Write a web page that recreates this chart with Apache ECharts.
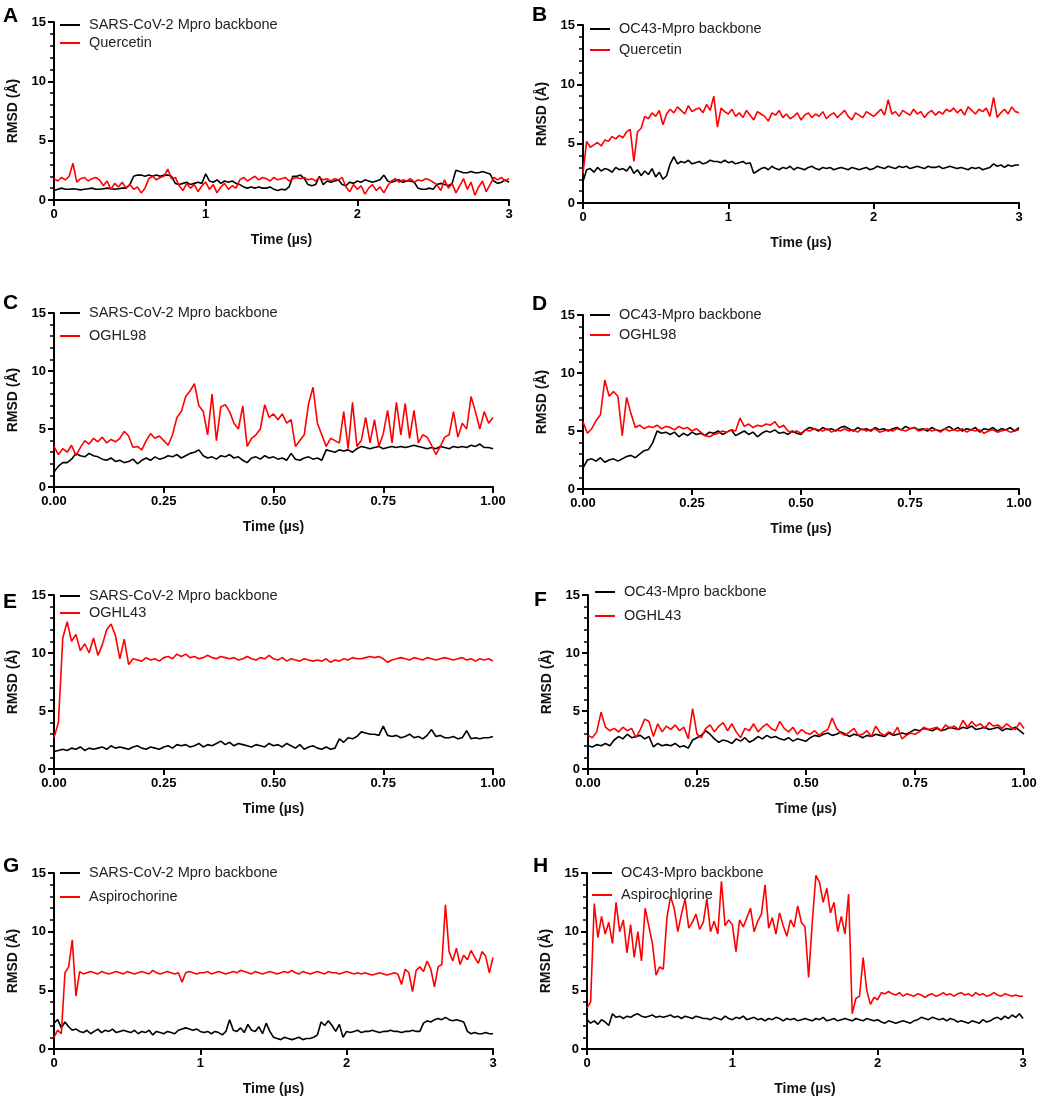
<!DOCTYPE html>
<html>
<head>
<meta charset="utf-8">
<title>RMSD panels</title>
<script src="https://cdn.jsdelivr.net/npm/echarts@6/dist/echarts.min.js"></script>
<style>
  html, body { margin: 0; padding: 0; background: #fff; }
  #chart { width: 1045px; height: 1103px; }
</style>
</head>
<body>
<div id="chart"></div>
<script>
// RMSD values (Å); samples are evenly spaced over each run
var yTicks = [0, 5, 10, 15];

// A: SARS-CoV-2 Mpro / Quercetin, 0-3 µs
var aBackbone = [0.8,0.9,1.0,0.9,0.9,0.95,0.9,0.85,0.9,0.95,1.0,0.9,0.9,0.95,1.0,0.95,0.9,0.95,1.0,1.0,1.3,
  2.0,2.1,2.1,2.0,2.1,2.0,2.1,2.0,2.1,2.1,2.0,
  1.4,1.3,1.4,1.5,1.3,1.4,1.5,1.4,
  2.2,1.6,1.5,1.7,1.4,1.6,1.5,1.6,1.4,1.3,
  1.1,1.0,1.1,1.0,1.1,1.0,1.0,1.1,0.9,0.8,0.9,0.85,
  1.1,2.0,2.0,2.1,1.8,
  1.3,1.2,1.3,2.0,1.3,
  1.6,1.5,1.6,1.7,
  1.3,1.2,1.5,1.4,
  1.6,1.5,1.7,1.6,1.5,1.6,1.7,2.1,1.6,1.5,1.6,1.7,1.5,1.6,1.6,1.5,
  1.0,0.9,0.9,1.0,0.9,
  1.3,1.4,1.3,1.2,1.4,
  2.5,2.4,2.3,2.3,2.4,2.3,2.3,2.4,2.3,2.2,
  1.6,1.4,1.5,1.7,1.5];
var aLigand = [1.8,1.6,1.9,1.7,2.0,3.1,1.5,1.8,1.9,1.6,1.8,1.9,1.7,
  1.2,1.6,0.9,1.4,1.1,1.5,1.0,1.3,
  0.9,1.1,0.6,1.0,
  1.8,2.0,1.7,1.9,2.0,2.6,1.8,1.9,
  1.2,0.8,1.4,1.0,1.3,0.7,1.2,1.5,0.9,1.3,0.6,1.1,1.4,0.9,1.2,1.0,
  1.7,1.9,1.6,1.8,2.0,1.7,1.9,1.8,1.6,1.9,1.7,1.8,1.9,1.6,1.8,1.9,
  1.8,1.9,1.7,1.8,1.6,1.9,1.7,1.8,1.6,1.8,1.7,1.9,
  1.1,0.7,1.3,0.9,1.2,0.5,1.0,1.3,0.8,1.1,0.6,1.2,
  1.6,1.8,1.5,1.7,1.6,1.8,1.5,1.7,1.6,1.8,1.7,1.5,
  1.3,0.8,1.7,1.0,1.4,0.6,1.2,1.8,0.9,1.5,0.4,1.1,1.6,0.7,1.3,1.9,
  1.7,1.9,1.6,1.8];

// B: OC43-Mpro / Quercetin, 0-3 µs
var bBackbone = [1.8,2.8,2.9,2.6,3.0,2.7,2.9,2.8,2.6,3.0,2.8,2.9,2.7,3.1,
  2.5,2.8,2.3,2.7,2.4,2.9,2.2,2.6,2.0,
  2.3,3.3,3.9,3.3,3.5,3.4,3.6,3.3,3.4,3.5,3.3,3.4,3.6,3.5,3.5,3.4,3.6,3.4,3.5,3.3,3.4,3.5,3.3,
  3.4,2.5,
  2.7,2.9,3.0,2.8,3.1,2.9,2.8,3.0,2.9,3.1,2.8,3.0,2.9,2.8,3.0,3.1,2.9,2.8,3.0,2.9,3.0,2.8,2.9,3.0,
  2.9,2.8,3.0,2.9,2.8,2.9,3.0,2.8,2.9,3.1,3.0,2.9,3.1,3.0,2.9,3.1,3.0,3.1,2.9,3.0,3.1,3.0,2.9,3.1,
  3.0,3.0,3.1,2.9,3.0,3.1,3.0,2.9,3.0,2.9,2.8,3.0,2.9,3.0,2.8,2.9,3.0,3.3,3.1,3.2,3.0,3.2,3.1,3.2,3.2];
var bLigand = [2.5,5.2,4.7,4.9,5.1,4.8,5.3,5.2,5.6,5.4,5.7,5.5,
  6.0,6.2,3.5,6.0,6.3,7.3,7.1,7.6,7.3,7.8,6.6,7.5,
  7.9,7.6,8.1,7.8,7.5,8.2,7.7,7.9,8.0,7.6,8.3,7.8,9.0,6.4,8.0,7.7,
  7.5,7.9,7.3,7.6,7.2,7.8,7.4,7.0,7.7,7.5,7.3,6.9,7.6,7.4,7.8,7.2,7.5,7.1,7.3,7.6,7.0,
  7.4,7.6,7.2,7.5,7.3,7.7,7.1,7.4,7.6,7.2,7.5,7.8,7.3,7.0,7.6,7.4,7.2,7.7,7.5,7.3,
  7.6,7.9,7.4,8.7,7.5,7.7,7.3,7.8,7.6,7.4,7.9,7.5,7.7,7.2,7.6,7.8,7.4,7.7,7.5,7.9,
  7.7,8.0,7.6,7.9,7.4,8.1,7.8,7.5,7.9,7.7,8.0,7.3,8.9,7.2,7.6,7.9,7.5,8.1,7.7,7.6];

// C: SARS-CoV-2 Mpro / OGHL98, 0-1 µs
var cBackbone = [1.3,1.8,2.1,2.1,2.4,2.9,2.7,2.6,2.9,2.7,
  2.6,2.4,2.3,2.5,2.2,2.3,2.1,2.2,2.4,2.0,
  2.3,2.5,2.3,2.6,2.4,2.5,2.7,2.6,2.8,2.5,
  2.7,2.9,3.0,3.2,2.7,2.5,2.6,2.4,2.7,2.6,
  2.8,2.5,2.6,2.3,2.1,2.5,2.6,2.4,2.7,2.5,
  2.6,2.4,2.5,2.3,2.9,2.4,2.3,2.5,2.6,2.4,
  2.5,2.3,3.2,3.1,3.0,3.2,3.1,3.2,3.0,3.3,
  3.5,3.4,3.3,3.4,3.5,3.3,3.4,3.5,3.4,3.5,
  3.4,3.5,3.6,3.5,3.4,3.3,3.4,3.3,3.5,3.4,
  3.3,3.5,3.4,3.5,3.4,3.6,3.5,3.7,3.4,3.4,3.3];
var cLigand = [3.5,2.8,3.3,3.0,3.6,2.7,3.4,4.0,3.7,4.2,
  3.9,4.3,3.8,4.1,3.9,4.2,4.8,4.4,3.4,3.5,
  3.2,4.0,4.6,4.2,4.4,4.0,3.6,4.5,6.0,6.5,
  7.8,8.3,8.9,7.0,6.5,4.5,8.0,4.0,6.9,7.1,
  6.5,5.5,5.0,7.0,3.5,4.2,4.5,5.0,7.1,6.0,
  6.3,5.8,6.3,5.5,5.8,3.5,4.0,4.5,7.2,8.6,
  5.5,4.5,3.5,4.2,4.0,3.8,6.5,3.3,7.3,3.5,
  4.0,6.0,3.8,5.8,3.5,4.6,6.6,3.8,7.3,4.5,
  7.2,4.2,6.6,3.8,4.5,4.3,3.6,2.8,3.5,4.3,
  4.5,6.5,4.3,5.5,5.0,7.8,6.5,5.0,6.5,5.5,6.0];

// D: OC43-Mpro / OGHL98, 0-1 µs
var dBackbone = [1.8,2.5,2.6,2.4,2.7,2.3,2.5,2.6,2.4,2.6,
  2.8,2.9,2.7,3.0,3.3,3.4,4.0,5.0,4.8,4.9,
  4.7,4.9,4.5,4.8,4.6,4.9,4.7,4.8,4.6,4.9,
  4.8,5.0,4.7,4.9,5.1,4.6,4.8,5.0,4.7,4.9,
  4.5,4.8,5.0,4.9,5.1,4.8,4.9,4.7,5.0,4.8,
  4.7,5.1,5.3,5.2,5.0,5.3,5.1,5.2,5.0,5.3,
  5.4,5.2,5.0,5.3,5.1,5.2,5.0,5.3,5.1,5.2,
  5.0,5.2,5.3,5.1,5.4,5.2,5.3,5.1,5.2,5.0,
  5.3,5.1,5.0,5.2,5.4,5.1,5.3,5.0,5.2,5.1,
  5.3,4.9,5.2,5.1,5.3,5.0,5.2,5.1,5.3,5.0,5.3];
var dLigand = [5.8,4.8,5.2,5.9,6.4,9.4,8.0,8.4,8.0,4.6,
  7.9,6.5,5.3,5.5,5.2,5.4,5.3,5.5,5.2,5.4,
  5.3,5.1,5.4,5.2,5.3,5.0,5.2,4.9,4.6,4.5,
  4.7,4.8,5.0,4.9,5.1,5.0,6.1,5.4,5.6,5.3,
  5.5,5.4,5.6,5.5,5.8,5.3,5.5,5.0,4.9,5.0,
  4.8,5.1,5.0,5.2,5.1,5.0,5.2,4.9,5.1,5.0,
  5.2,5.0,5.1,4.9,5.2,5.0,5.1,5.2,4.9,5.0,
  5.1,5.0,5.2,5.1,5.0,5.2,5.3,5.0,5.1,5.2,
  5.0,5.1,4.9,5.2,5.0,5.1,5.0,5.2,4.9,5.1,
  5.0,5.1,4.8,5.0,5.1,4.9,5.0,5.1,4.9,5.0,5.1];

// E: SARS-CoV-2 Mpro / OGHL43, 0-1 µs
var eBackbone = [1.5,1.6,1.7,1.6,1.8,1.7,1.9,1.6,1.8,1.7,
  1.8,1.9,1.7,2.0,1.8,1.9,1.8,1.7,1.9,2.0,
  1.8,1.7,1.9,1.8,1.7,1.9,2.0,1.8,2.1,2.0,
  2.1,1.9,2.0,2.2,1.9,2.1,2.0,2.2,2.4,2.1,
  2.3,2.0,2.2,2.1,2.0,1.9,2.1,2.0,1.9,2.2,
  2.0,2.1,1.9,2.2,2.0,1.8,2.1,1.7,1.9,2.0,
  1.8,1.7,1.9,1.7,1.8,2.6,2.3,2.7,2.6,2.8,
  3.2,3.1,3.0,3.0,2.9,3.7,2.9,2.8,2.9,2.7,
  2.8,3.0,2.7,2.8,2.6,2.9,3.4,2.8,2.9,2.7,
  2.7,2.8,2.6,2.7,3.3,2.6,2.7,2.6,2.7,2.7,2.8];
var eLigand = [2.7,4.0,11.3,12.7,11.0,11.6,10.2,10.8,10.0,11.3,
  9.8,10.7,12.0,12.5,11.5,9.5,11.2,9.0,9.5,9.4,
  9.3,9.6,9.4,9.5,9.3,9.6,9.7,9.5,9.9,9.7,
  9.9,9.6,9.7,9.5,9.6,9.8,9.6,9.5,9.7,9.6,
  9.5,9.6,9.4,9.5,9.7,9.5,9.4,9.6,9.5,9.8,
  9.5,9.4,9.6,9.3,9.5,9.4,9.3,9.5,9.4,9.3,
  9.4,9.3,9.5,9.2,9.4,9.3,9.5,9.4,9.6,9.5,
  9.5,9.6,9.7,9.6,9.7,9.5,9.2,9.4,9.5,9.6,
  9.5,9.4,9.6,9.5,9.4,9.6,9.5,9.4,9.5,9.6,
  9.5,9.4,9.5,9.6,9.4,9.5,9.3,9.5,9.4,9.5,9.3];

// F: OC43-Mpro / OGHL43, 0-1 µs
var fBackbone = [2.0,1.9,2.1,2.0,2.2,2.0,2.5,2.8,2.6,3.0,
  2.7,2.8,2.9,2.6,2.8,1.9,2.2,2.0,2.1,2.0,
  2.2,1.9,2.0,1.8,2.5,2.7,2.9,3.3,3.0,2.6,
  2.3,2.5,2.4,2.2,2.6,2.4,2.7,2.3,2.5,2.8,
  2.6,2.9,2.7,2.8,2.6,2.5,2.7,2.4,2.6,2.5,
  2.4,2.7,2.9,2.8,3.0,3.1,2.9,3.0,3.2,3.0,
  2.8,3.0,2.9,2.7,2.9,2.8,3.0,2.9,2.8,3.1,
  2.9,3.0,3.1,3.0,3.2,3.4,3.3,3.5,3.4,3.3,
  3.5,3.3,3.4,3.6,3.5,3.4,3.6,3.5,3.7,3.4,
  3.5,3.6,3.4,3.5,3.6,3.3,3.5,3.4,3.6,3.3,3.0];
var fLigand = [2.9,2.7,3.2,4.9,3.6,3.3,3.5,3.2,3.6,3.3,
  3.5,2.7,3.4,4.3,4.1,2.8,3.9,3.2,3.7,3.4,
  3.8,3.3,3.6,2.6,5.2,3.0,2.7,3.5,3.8,3.2,
  3.7,4.0,3.3,3.9,3.2,2.7,3.5,3.3,3.9,3.2,
  3.6,3.9,3.5,3.3,4.1,3.5,3.2,3.6,3.0,3.4,
  3.1,3.0,3.3,2.9,3.2,3.4,4.4,3.5,3.1,2.9,
  3.2,3.5,2.9,3.0,3.3,2.8,3.7,3.1,2.9,3.2,
  3.0,3.6,2.6,2.9,3.1,3.0,3.2,3.6,3.4,3.5,
  3.6,3.3,3.8,3.5,3.7,3.4,4.2,3.6,4.1,3.7,
  3.9,3.5,4.0,3.7,3.8,3.5,3.9,3.6,3.4,4.0,3.5];

// G: SARS-CoV-2 Mpro / Aspirochorine, 0-3 µs
var gBackbone = [2.2,2.5,1.8,2.3,1.9,
  1.6,1.7,1.5,1.4,1.6,1.3,1.5,1.7,1.4,1.6,1.5,1.7,1.4,1.5,1.6,1.5,
  1.4,1.6,1.3,1.5,1.4,1.6,1.2,1.5,1.4,1.3,1.5,1.4,1.3,
  1.6,1.7,1.8,1.7,1.6,1.7,1.5,
  1.4,1.5,1.3,1.5,1.4,1.2,1.5,
  2.5,1.6,1.5,1.8,1.4,2.1,1.6,1.5,1.9,1.3,2.2,1.5,
  1.0,0.9,0.8,1.0,0.9,0.8,0.9,1.0,0.8,0.9,0.9,1.0,
  1.2,2.3,2.0,2.4,2.0,1.5,2.1,1.0,
  1.5,1.4,1.5,1.6,1.4,1.5,1.5,1.6,1.5,1.4,1.5,1.5,1.6,1.5,1.5,1.4,1.5,1.5,1.6,1.5,1.5,2.2,
  2.4,2.3,2.5,2.6,2.5,2.7,2.5,2.4,2.5,2.4,
  2.3,1.5,1.3,1.4,1.3,1.3,1.4,1.3,1.3];
var gLigand = [1.0,1.6,1.3,6.5,7.0,9.3,
  4.5,6.6,6.4,6.5,6.6,6.5,6.4,6.6,6.5,6.4,6.5,6.6,6.5,6.4,6.6,
  6.5,6.4,6.5,6.6,6.5,6.4,6.7,6.5,6.4,6.5,6.6,6.5,6.4,6.5,5.7,6.5,6.6,6.5,6.4,6.5,
  6.5,6.6,6.4,6.5,6.6,6.5,6.4,6.5,6.6,6.5,6.7,6.6,6.5,6.4,6.6,6.5,6.4,6.5,6.6,6.5,
  6.4,6.5,6.6,6.5,6.7,6.5,6.4,6.6,6.5,6.4,6.5,6.6,6.5,6.4,6.6,6.5,6.5,6.4,6.5,6.6,
  6.5,6.4,6.5,6.4,6.5,6.4,6.3,6.4,6.5,6.4,6.3,6.4,6.5,6.4,5.5,
  6.8,6.5,4.9,6.7,7.0,6.6,7.5,6.8,5.3,7.0,
  7.2,12.3,8.3,7.5,8.6,7.2,8.0,7.6,8.4,7.8,7.3,8.3,7.9,6.5,7.8];

// H: OC43-Mpro / Aspirochlorine, 0-3 µs
var hBackbone = [2.5,2.2,2.4,2.1,2.5,2.3,2.0,
  3.0,2.7,2.8,2.6,2.8,2.7,2.9,
  3.0,2.8,2.7,2.8,2.9,2.7,2.8,2.7,2.8,2.9,2.7,2.8,2.6,2.8,2.7,2.6,2.8,2.7,2.6,
  2.6,2.5,2.7,2.6,2.5,2.8,2.6,2.5,2.7,2.6,2.8,2.5,2.6,2.7,2.5,2.6,2.4,2.6,2.5,2.7,2.6,2.4,2.6,2.5,2.6,2.4,2.5,2.6,
  2.5,2.4,2.6,2.5,2.7,2.4,2.5,2.6,2.4,2.5,2.6,2.5,2.4,2.6,2.5,2.4,2.6,2.5,2.4,2.5,
  2.3,2.2,2.4,2.3,2.2,2.3,2.4,2.3,2.2,2.4,2.5,2.7,
  2.6,2.5,2.7,2.6,2.5,2.6,2.4,2.6,2.5,2.3,2.4,2.3,
  2.2,2.4,2.3,2.2,2.5,2.3,2.4,2.6,
  2.7,2.5,2.8,2.6,2.9,2.7,3.0,2.6];
var hLigand = [3.5,4.0,12.4,9.5,11.3,9.8,10.8,9.0,12.5,10.0,
  11.0,8.2,10.6,7.8,10.0,7.5,12.0,10.5,9.0,6.3,
  7.0,6.8,11.2,13.0,12.0,10.0,11.5,12.8,10.3,10.8,
  11.5,10.2,10.8,12.8,10.0,10.9,9.8,14.3,10.5,11.0,
  10.6,8.3,11.0,10.4,11.2,12.0,10.0,10.9,11.5,14.0,
  10.3,11.2,9.8,11.6,10.5,9.6,11.0,10.4,12.2,10.8,
  10.4,6.1,10.8,14.8,14.2,12.5,13.7,11.6,12.5,10.0,
  11.3,9.8,13.2,3.0,4.3,4.5,7.8,5.0,3.8,4.4,
  4.2,4.8,4.7,4.9,4.7,
  4.6,4.8,4.5,4.7,4.6,4.5,4.7,4.6,4.4,4.6,4.7,4.5,4.6,4.8,4.6,4.7,4.5,4.7,
  4.8,4.6,4.7,4.5,4.8,4.6,4.7,4.5,4.6,4.8,4.6,4.5,4.7,4.6,4.5,4.6,4.5,4.5];

var sarsName = 'SARS-CoV-2 Mpro backbone';
var oc43Name = 'OC43-Mpro backbone';

var FONT = '"Liberation Sans", Arial, Helvetica, sans-serif';

// layout of the eight panels (pixels)
var panels = [
  { letter: 'A', lx: 3,   ly: 6,   left: 54,  top: 22,  width: 455, height: 178, xMax: 3, xInt: 1,    dig: 0,
    names: [sarsName, 'Quercetin'], data: [aBackbone, aLigand], legTop: 17, legLeft: 60, legGap: 18 },
  { letter: 'B', lx: 532, ly: 5,   left: 583, top: 25,  width: 436, height: 178, xMax: 3, xInt: 1,    dig: 0,
    names: [oc43Name, 'Quercetin'], data: [bBackbone, bLigand], legTop: 21, legLeft: 590, legGap: 21 },
  { letter: 'C', lx: 3,   ly: 293, left: 54,  top: 313, width: 439, height: 174, xMax: 1, xInt: 0.25, dig: 2,
    names: [sarsName, 'OGHL98'], data: [cBackbone, cLigand], legTop: 305, legLeft: 60, legGap: 23 },
  { letter: 'D', lx: 532, ly: 294, left: 583, top: 315, width: 436, height: 174, xMax: 1, xInt: 0.25, dig: 2,
    names: [oc43Name, 'OGHL98'], data: [dBackbone, dLigand], legTop: 307, legLeft: 590, legGap: 20 },
  { letter: 'E', lx: 3,   ly: 592, left: 54,  top: 595, width: 439, height: 174, xMax: 1, xInt: 0.25, dig: 2,
    names: [sarsName, 'OGHL43'], data: [eBackbone, eLigand], legTop: 588, legLeft: 60, legGap: 17 },
  { letter: 'F', lx: 534, ly: 590, left: 588, top: 595, width: 436, height: 174, xMax: 1, xInt: 0.25, dig: 2,
    names: [oc43Name, 'OGHL43'], data: [fBackbone, fLigand], legTop: 584, legLeft: 595, legGap: 24 },
  { letter: 'G', lx: 3,   ly: 856, left: 54,  top: 873, width: 439, height: 176, xMax: 3, xInt: 1,    dig: 0,
    names: [sarsName, 'Aspirochorine'], data: [gBackbone, gLigand], legTop: 865, legLeft: 60, legGap: 24 },
  { letter: 'H', lx: 533, ly: 856, left: 587, top: 873, width: 436, height: 176, xMax: 3, xInt: 1,    dig: 0,
    names: [oc43Name, 'Aspirochlorine'], data: [hBackbone, hLigand], legTop: 865, legLeft: 592, legGap: 22 }
];

var colors = ['#000000', '#ff0000'];

function toPairs(values, xMax) {
  var step = xMax / (values.length - 1);
  return values.map(function (v, i) { return [i * step, v]; });
}

var option = {
  animation: false,
  backgroundColor: '#ffffff',
  textStyle: { fontFamily: FONT },
  title: [], grid: [], xAxis: [], yAxis: [], legend: [], series: []
};

panels.forEach(function (p, i) {

  option.title.push({
    text: p.letter, left: p.lx, top: p.ly, padding: 0,
    textStyle: { fontSize: 21, fontWeight: 'bold', color: '#000', fontFamily: FONT }
  });

  option.grid.push({ left: p.left, top: p.top, width: p.width, height: p.height });

  option.xAxis.push({
    gridIndex: i, type: 'value', min: 0, max: p.xMax, interval: p.xInt,
    name: 'Time (\u00b5s)', nameLocation: 'middle', nameGap: 33,
    nameTextStyle: { fontSize: 14, fontWeight: 'bold', color: '#111', fontFamily: FONT },
    axisLine: { lineStyle: { color: '#000', width: 2 } },
    axisTick: { length: 6, lineStyle: { color: '#000', width: 2 } },
    axisLabel: {
      margin: 8, fontSize: 13, fontWeight: 'bold', color: '#000', fontFamily: FONT,
      formatter: function (v) { return v.toFixed(p.dig); }
    },
    splitLine: { show: false }
  });

  option.yAxis.push({
    gridIndex: i, type: 'value', min: yTicks[0], max: yTicks[yTicks.length - 1], interval: 5,
    name: 'RMSD (\u00c5)', nameLocation: 'middle', nameGap: 34,
    nameTextStyle: { fontSize: 14, fontWeight: 'bold', color: '#111', fontFamily: FONT },
    axisLine: { show: true, lineStyle: { color: '#000', width: 2 } },
    axisTick: { show: true, length: 6, lineStyle: { color: '#000', width: 2 } },
    minorTick: { show: true, splitNumber: 5, length: 4, lineStyle: { color: '#000', width: 1.5 } },
    axisLabel: { margin: 8, fontSize: 13, fontWeight: 'bold', color: '#000', fontFamily: FONT },
    splitLine: { show: false }
  });

  option.legend.push({
    data: p.names, orient: 'vertical', left: p.legLeft, top: p.legTop, padding: 0,
    icon: 'path://M0,0L20,0L20,2L0,2Z', itemWidth: 20, itemHeight: 2,
    itemGap: p.legGap - 16, selectedMode: false,
    formatter: ' {name}',
    textStyle: { fontSize: 14.5, lineHeight: 16, color: '#222', fontFamily: FONT }
  });

  p.data.forEach(function (vals, k) {
    option.series.push({
      name: p.names[k], type: 'line', xAxisIndex: i, yAxisIndex: i,
      data: toPairs(vals, p.xMax),
      symbol: 'none', showSymbol: false,
      lineStyle: { color: colors[k], width: 1.6 },
      itemStyle: { color: colors[k] },
      z: 2 + k
    });
  });
});

var myChart = echarts.init(document.getElementById('chart'), null, { renderer: 'canvas' });
myChart.setOption(option);
</script>
</body>
</html>
